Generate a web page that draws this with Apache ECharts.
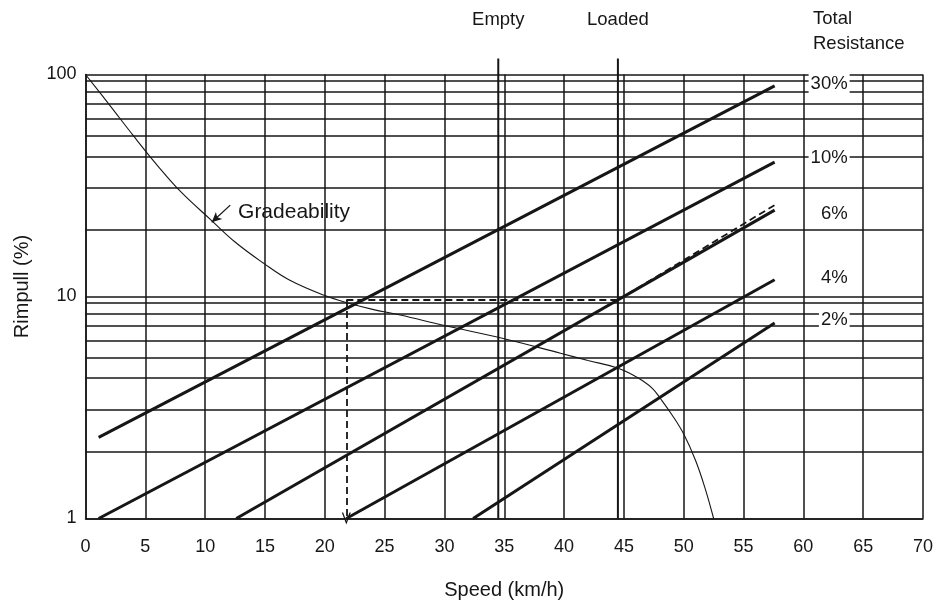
<!DOCTYPE html>
<html>
<head>
<meta charset="utf-8">
<script src="https://cdn.jsdelivr.net/npm/echarts@6/dist/echarts.min.js"></script>
<style>
  html, body { margin: 0; padding: 0; background: #fff; }
  #chart { width: 941px; height: 602px; }
</style>
</head>
<body>
<div id="chart"></div>
<script>
// Axis ranges and ticks
const speedMin = 0, speedMax = 70, speedStep = 5;
const rimpullMin = 1, rimpullMax = 100;

// Intermediate rimpull grid lines (%)
const rimpullGrid = [2, 3.1, 4.3, 5.3, 6.3, 7.4, 8.4, 9.4, 20, 31, 42.5, 53, 63, 74, 84, 94];

// Total resistance lines: [speed km/h, rimpull %] at each end
const resistanceNames = ['30%', '10%', '6%', '4%', '2%'];
const res30 = [[1.1, 2.32], [57.6, 88.8]];
const res10 = [[1.1, 1], [57.6, 40.3]];
const res6  = [[12.6, 1], [57.6, 24.5]];
const res4  = [[21.8, 1], [57.6, 11.9]];
const res2  = [[32.4, 1], [57.6, 7.6]];

// Gradeability curve: [speed km/h, rimpull %]
const gradeability = [
  [0, 100], [2, 73], [4, 53], [6, 39], [8, 29.5], [10.5, 22.1], [12.5, 17.6],
  [14.9, 14.1], [17, 11.9], [20, 10.1], [22.1, 9.3], [24, 8.75], [26.3, 8.25],
  [30, 7.4], [35, 6.45], [39.7, 5.55], [42, 5.15], [44.4, 4.78], [45.6, 4.48],
  [46.6, 4.16], [47.4, 3.85], [48, 3.5], [49, 2.94], [50, 2.4], [51, 1.82],
  [51.8, 1.36], [52.5, 1]
];

// Vehicle speed markers
const emptySpeed = 34.5;
const loadedSpeed = 44.5;
const markerTop = 118;

// Worked example: read-off point and loaded 6% path
const readSpeed = 21.8;
const readRimpull = 9.65;
const loaded6 = [[44.5, 9.65], [57.6, 25.8]];

// Gradeability caption and pointer
const gradeLabelAt = [12.75, 24.0];
const gradeArrow = [[12.1, 25.8], [10.55, 21.6]];

const ink = '#161616';
const font = 'Liberation Sans, Arial, Helvetica, sans-serif';
// open chevron arrowhead (points up; rotated along the line by the library)
const openArrow = 'path://M5,0 L10,12 L8.5,12 L5,3.6 L1.5,12 L0,12 Z';

function resistanceSeries(name, data, dy) {
  return {
    type: 'line', name: name, data: data, symbol: 'none', silent: true,
    lineStyle: { color: ink, width: 3 },
    endLabel: {
      show: true, formatter: name, align: 'right', distance: 75, offset: [0, dy],
      color: ink, fontSize: 18.5, fontFamily: font,
      backgroundColor: '#fff', padding: [1, 2]
    },
    z: 5
  };
}

function markerSeries(name, speed) {
  return {
    type: 'line', name: name, data: [[speed, rimpullMin], [speed, markerTop]],
    symbol: 'none', silent: true, clip: false,
    lineStyle: { color: ink, width: 2 },
    z: 4
  };
}

function markerCaption(name, speed) {
  return {
    type: 'scatter', data: [[speed, markerTop]], symbolSize: 0, silent: true, clip: false,
    itemStyle: { opacity: 1 },
    label: {
      show: true, formatter: name, position: 'top', distance: 29,
      color: ink, fontSize: 18.5, fontFamily: font
    },
    z: 4
  };
}

const chart = echarts.init(document.getElementById('chart'), null, { renderer: 'canvas' });

chart.setOption({
  animation: false,
  backgroundColor: '#fff',
  title: {
    text: 'Total\nResistance', left: 813, top: 7, padding: 0,
    textStyle: { color: ink, fontSize: 18.5, fontWeight: 'normal', fontFamily: font, lineHeight: 24.5 }
  },
  grid: { left: 85.5, right: 18, top: 74.5, bottom: 83.5, containLabel: false, outerBoundsMode: 'none' },
  xAxis: {
    type: 'value', min: speedMin, max: speedMax, interval: speedStep,
    name: 'Speed (km/h)', nameLocation: 'middle', nameGap: 62,
    nameTextStyle: { color: ink, fontSize: 20, fontFamily: font },
    axisLine: { show: true, lineStyle: { color: ink, width: 1.5 } },
    axisTick: { show: false },
    axisLabel: { color: ink, fontSize: 18, fontFamily: font, margin: 20 },
    splitLine: { show: true, lineStyle: { color: ink, width: 1.5 } }
  },
  yAxis: {
    type: 'log', logBase: 10, min: rimpullMin, max: rimpullMax,
    name: 'Rimpull (%)', nameLocation: 'middle', nameGap: 53,
    nameTextStyle: { color: ink, fontSize: 20, fontFamily: font, padding: [0, 0, 0, 20] },
    axisLine: { show: true, lineStyle: { color: ink, width: 1.5 } },
    axisTick: { show: false },
    axisLabel: { color: ink, fontSize: 18, fontFamily: font, margin: 9 },
    splitLine: { show: true, lineStyle: { color: ink, width: 1.5 } }
  },
  series: [
    {
      // intermediate rimpull grid
      type: 'line', data: [], symbol: 'none', silent: true,
      markLine: {
        silent: true, symbol: ['none', 'none'], animation: false,
        label: { show: false },
        lineStyle: { color: ink, width: 1.5, type: 'solid' },
        data: rimpullGrid.map(v => ({ yAxis: v }))
      },
      z: 1
    },
    markerSeries('Empty', emptySpeed),
    markerSeries('Loaded', loadedSpeed),
    markerCaption('Empty', emptySpeed),
    markerCaption('Loaded', loadedSpeed),
    resistanceSeries(resistanceNames[0], res30, -2),
    resistanceSeries(resistanceNames[1], res10, -4),
    resistanceSeries(resistanceNames[2], res6, 4),
    resistanceSeries(resistanceNames[3], res4, -2),
    resistanceSeries(resistanceNames[4], res2, -3),
    {
      type: 'line', name: 'Gradeability', data: gradeability, symbol: 'none',
      smooth: 0.4, silent: true,
      lineStyle: { color: ink, width: 1.1 }, z: 6
    },
    {
      // read-off path: dashed horizontal, dashed drop with arrow, loaded 6% line
      type: 'line', data: [], symbol: 'none', silent: true,
      markLine: {
        silent: true, animation: false, label: { show: false },
        lineStyle: { color: ink, width: 1.8, type: [7, 4] },
        data: [
          [{ coord: [readSpeed, readRimpull], symbol: 'none' }, { coord: [loadedSpeed, readRimpull], symbol: 'none' }],
          [{ coord: [readSpeed, readRimpull], symbol: 'none' }, { coord: [readSpeed, rimpullMin], symbol: openArrow, symbolSize: [9, 12] }],
          [{ coord: loaded6[0], symbol: 'none' }, { coord: loaded6[1], symbol: 'none' }]
        ]
      },
      z: 7
    },
    {
      // gradeability caption and pointer arrow
      type: 'scatter', data: [gradeLabelAt], symbolSize: 0, silent: true,
      itemStyle: { opacity: 1 },
      label: {
        show: true, position: 'right', distance: 0, formatter: 'Gradeability',
        color: ink, fontSize: 21, fontFamily: font
      },
      markLine: {
        silent: true, animation: false, label: { show: false },
        lineStyle: { color: ink, width: 1.3, type: 'solid' },
        data: [[{ coord: gradeArrow[0], symbol: 'none' }, { coord: gradeArrow[1], symbol: 'arrow', symbolSize: [7, 10] }]]
      },
      z: 8
    }
  ]
});
</script>
</body>
</html>
